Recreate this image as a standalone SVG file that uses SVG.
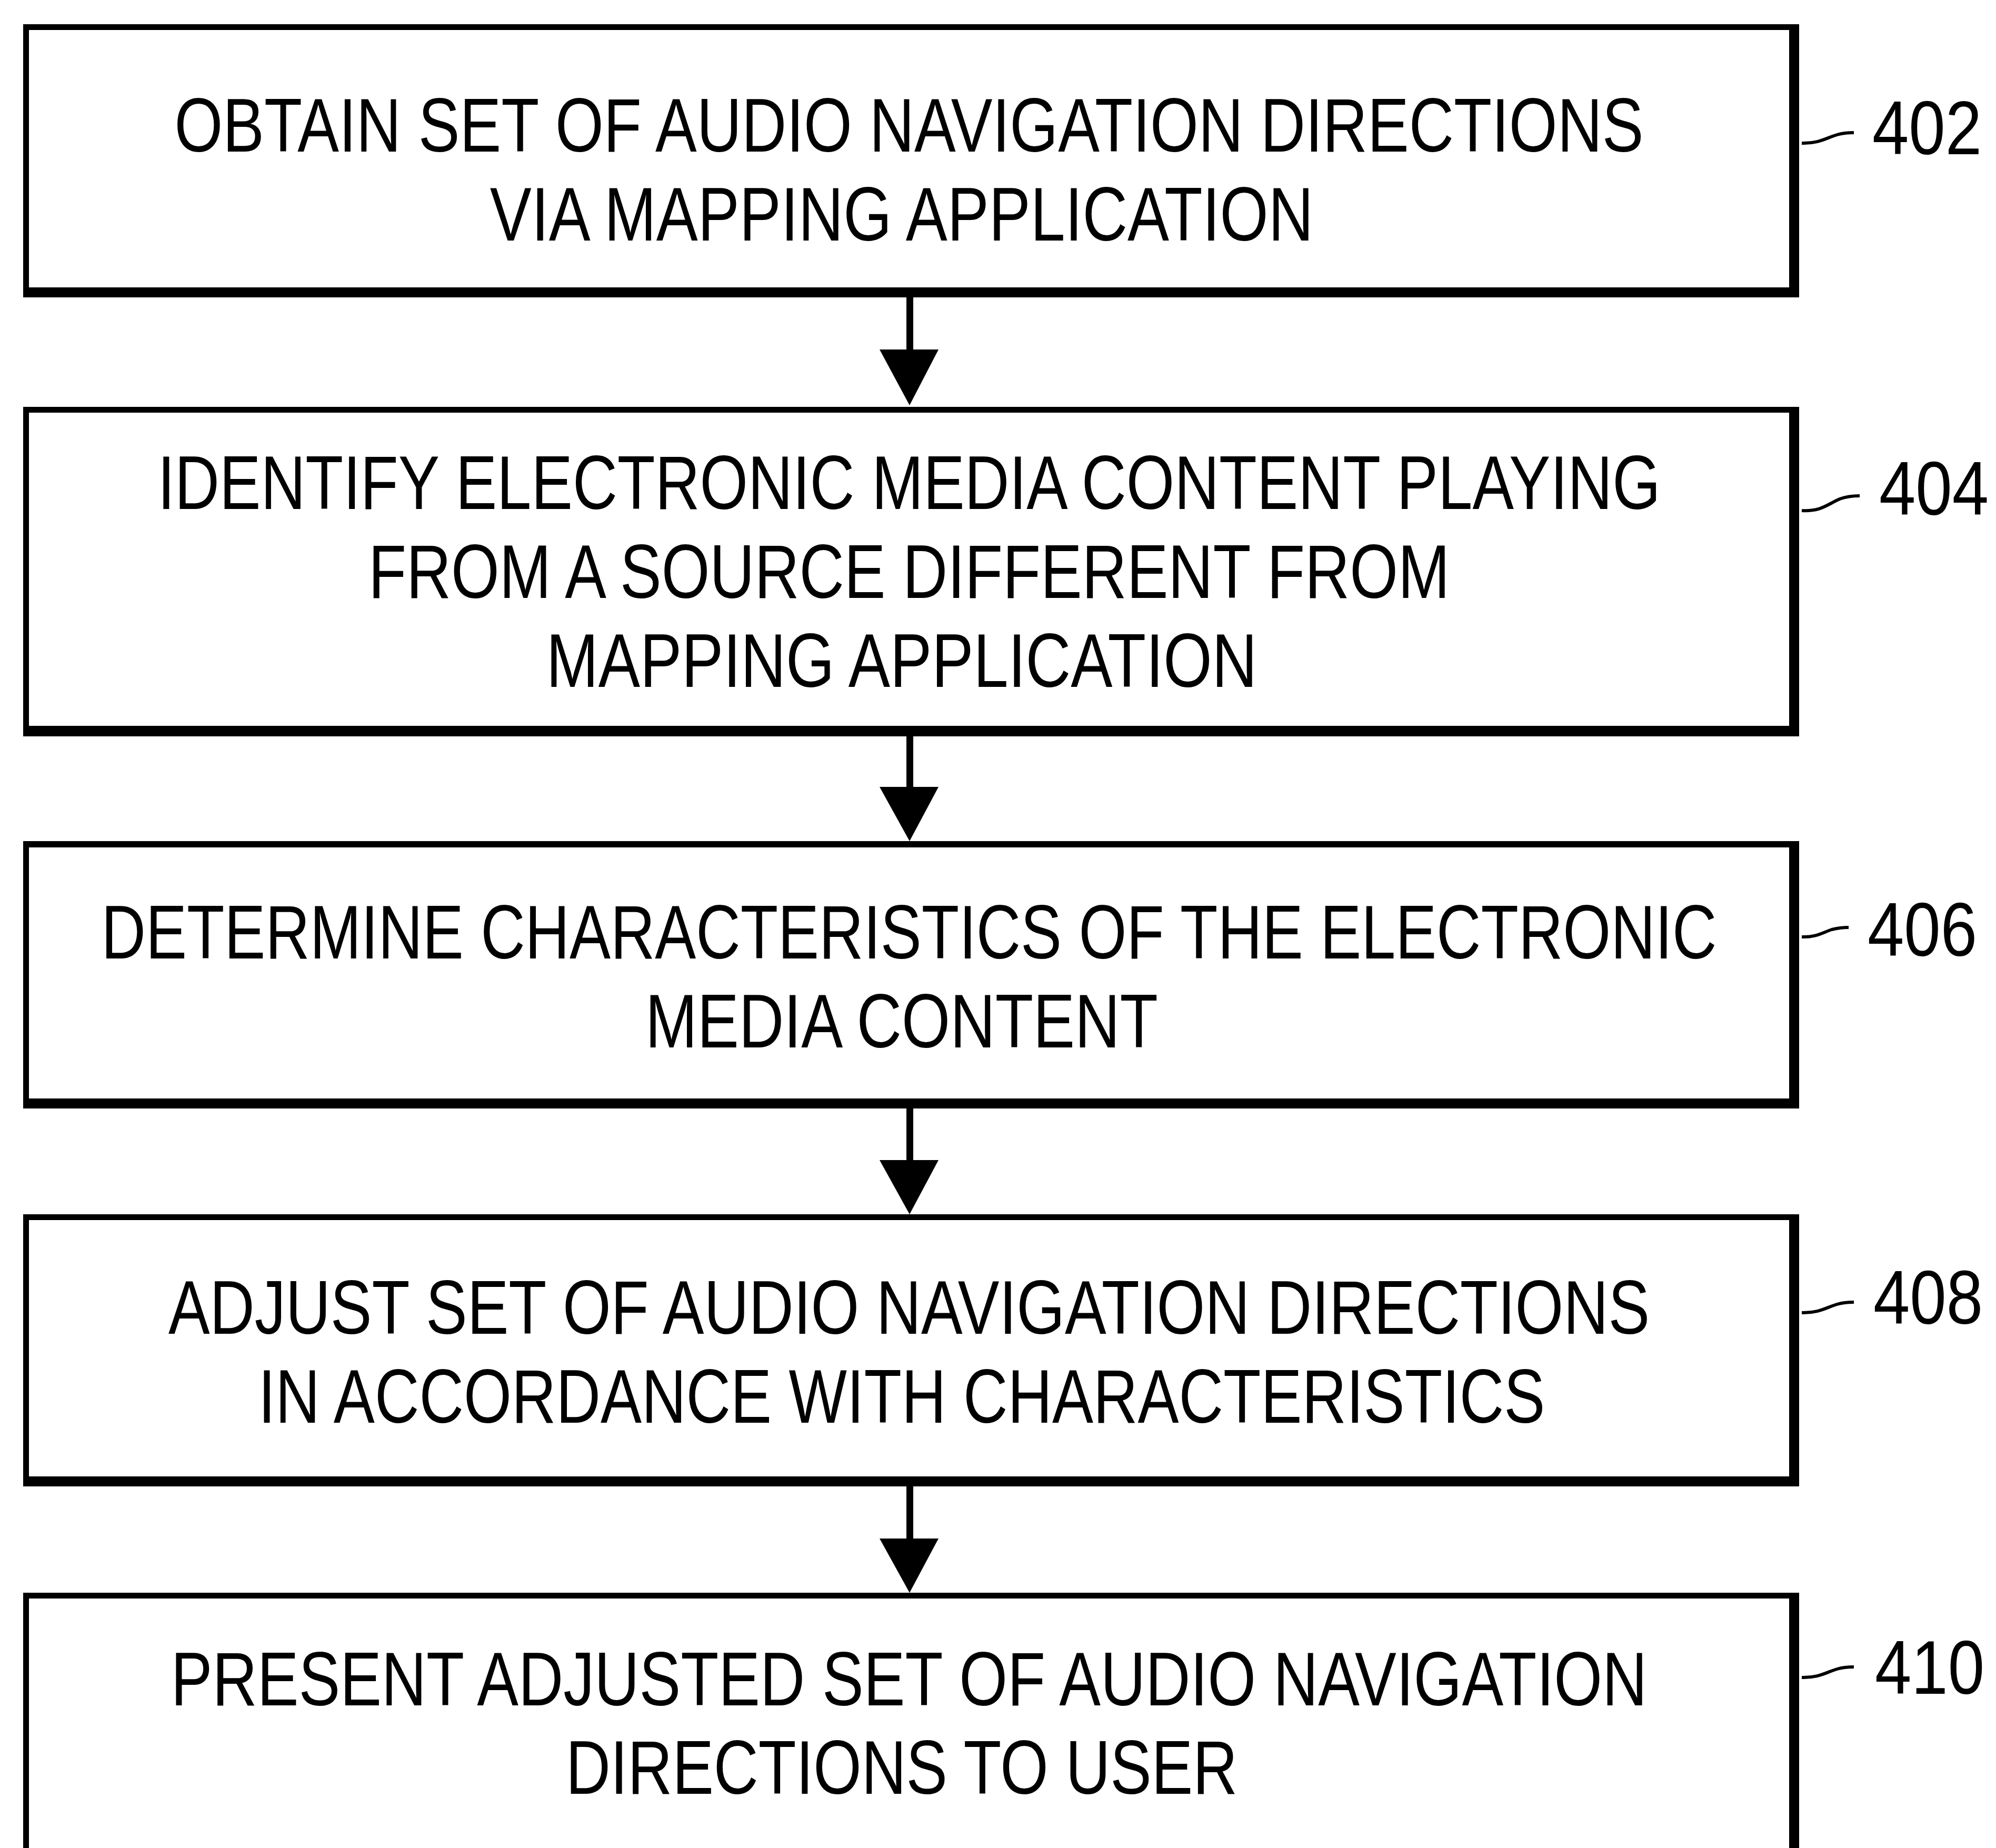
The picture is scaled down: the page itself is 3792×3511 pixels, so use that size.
<svg xmlns="http://www.w3.org/2000/svg" width="3792" height="3511" viewBox="0 0 3792 3511">
  <style>
    .frame { fill: #000; fill-rule: evenodd; }
    .step { font-family: "Liberation Sans", Arial, sans-serif; font-size: 145px; fill: #000; text-anchor: middle; }
    .ref { font-family: "Liberation Sans", Arial, sans-serif; font-size: 145px; fill: #000; }
    .lead { fill: none; stroke: #000; stroke-width: 6; stroke-linecap: butt; }
    .stem { fill: #000; }
  </style>
  <rect width="3792" height="3511" fill="#fff"/>

  <!-- Step 402 -->
  <g id="step402">
    <path class="frame" d="M44,46 H3418 V565 H44 Z M55,57 V546 H3399 V57 Z"/>
    <text class="step" transform="translate(1727 288) scale(0.814 1)">OBTAIN SET OF AUDIO NAVIGATION DIRECTIONS</text>
    <text class="step" transform="translate(1713 457) scale(0.817 1)">VIA MAPPING APPLICATION</text>
    <path class="lead" d="M3423,272 C3455,273 3470,262 3490,256 C3500,253 3510,252 3522,252"/>
    <text class="ref" transform="translate(3557 293) scale(0.86 1)">402</text>
  </g>

  <!-- Step 404 -->
  <g id="step404">
    <path class="frame" d="M44,773 H3418 V1399 H44 Z M55,784 V1379 H3399 V784 Z"/>
    <text class="step" transform="translate(1727 967) scale(0.811 1)">IDENTIFY ELECTRONIC MEDIA CONTENT PLAYING</text>
    <text class="step" transform="translate(1727 1136) scale(0.813 1)">FROM A SOURCE DIFFERENT FROM</text>
    <text class="step" transform="translate(1713 1305) scale(0.819 1)">MAPPING APPLICATION</text>
    <path class="lead" d="M3423,970 C3460,972 3472,958 3495,948 C3506,944 3516,942 3533,942"/>
    <text class="ref" transform="translate(3570 978) scale(0.86 1)">404</text>
  </g>

  <!-- Step 406 -->
  <g id="step406">
    <path class="frame" d="M44,1598 H3418 V2106 H44 Z M55,1610 V2087 H3399 V1610 Z"/>
    <text class="step" transform="translate(1727 1821) scale(0.806 1)">DETERMINE CHARACTERISTICS OF THE ELECTRONIC</text>
    <text class="step" transform="translate(1713 1990) scale(0.817 1)">MEDIA CONTENT</text>
    <path class="lead" d="M3423,1780 C3450,1781 3462,1772 3480,1766 C3492,1763 3500,1762 3512,1762"/>
    <text class="ref" transform="translate(3548 1816) scale(0.86 1)">406</text>
  </g>

  <!-- Step 408 -->
  <g id="step408">
    <path class="frame" d="M44,2307 H3418 V2824 H44 Z M55,2318 V2805 H3399 V2318 Z"/>
    <text class="step" transform="translate(1727 2534) scale(0.813 1)">ADJUST SET OF AUDIO NAVIGATION DIRECTIONS</text>
    <text class="step" transform="translate(1713 2703) scale(0.807 1)">IN ACCORDANCE WITH CHARACTERISTICS</text>
    <path class="lead" d="M3423,2494 C3455,2495 3470,2484 3490,2478 C3500,2475 3510,2474 3522,2474"/>
    <text class="ref" transform="translate(3559 2515) scale(0.86 1)">408</text>
  </g>

  <!-- Step 410 (runs past the lower edge of the sheet) -->
  <g id="step410">
    <path class="frame" d="M44,3026 H3418 V3530 H44 Z M55,3037 V3530 H3399 V3037 Z"/>
    <text class="step" transform="translate(1727 3240) scale(0.814 1)">PRESENT ADJUSTED SET OF AUDIO NAVIGATION</text>
    <text class="step" transform="translate(1713 3408) scale(0.811 1)">DIRECTIONS TO USER</text>
    <path class="lead" d="M3423,3187 C3455,3188 3470,3177 3490,3171 C3500,3168 3510,3167 3522,3167"/>
    <text class="ref" transform="translate(3562 3218) scale(0.86 1)">410</text>
  </g>

  <!-- Flow arrows between steps -->
  <g id="connectors">
    <rect class="stem" x="1722" y="565" width="13" height="100"/>
    <polygon class="stem" points="1671,664 1783,664 1728,770"/>
    <rect class="stem" x="1722" y="1399" width="13" height="97"/>
    <polygon class="stem" points="1671,1495 1783,1495 1728,1598"/>
    <rect class="stem" x="1722" y="2106" width="13" height="99"/>
    <polygon class="stem" points="1671,2204 1783,2204 1728,2307"/>
    <rect class="stem" x="1722" y="2824" width="13" height="100"/>
    <polygon class="stem" points="1671,2923 1783,2923 1728,3026"/>
  </g>
</svg>
